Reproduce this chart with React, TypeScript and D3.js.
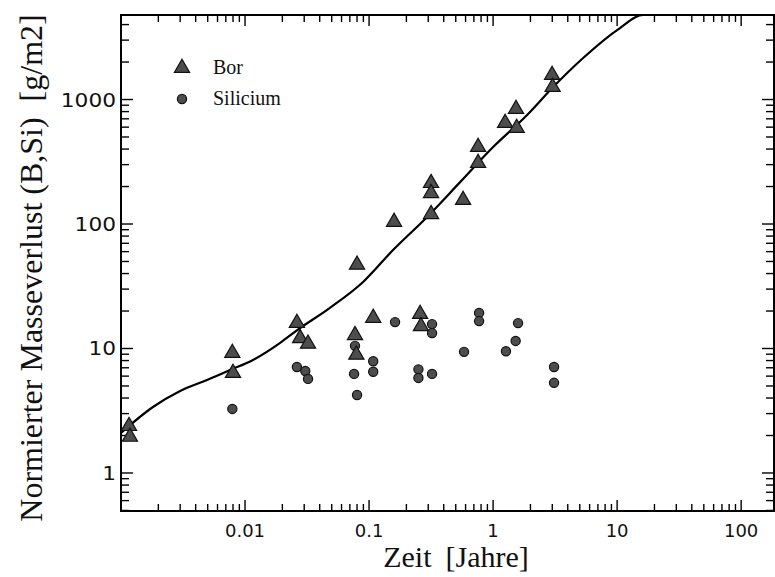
import React from 'react';
import * as d3 from 'd3';

// Bor (triangles)
const borX = [0.00116, 0.00118, 0.0079, 0.0080, 0.0262, 0.0278, 0.0322, 0.077, 0.079, 0.080, 0.108, 0.159, 0.258, 0.262, 0.316, 0.316, 0.316, 0.573, 0.757, 0.757, 1.25, 1.53, 1.55, 2.99, 3.02];
const borY = [2.38, 1.95, 9.2, 6.36, 16, 12.1, 10.9, 12.8, 8.9, 47, 17.6, 104, 18.9, 15.1, 213, 177, 120, 156, 415, 309, 648, 839, 590, 1573, 1260];

// Silicium (circles)
const siX = [0.0079, 0.0262, 0.0306, 0.0322, 0.0757, 0.077, 0.080, 0.108, 0.108, 0.162, 0.25, 0.25, 0.322, 0.322, 0.322, 0.583, 0.771, 0.771, 1.27, 1.52, 1.59, 3.1, 3.1];
const siY = [3.27, 7.1, 6.6, 5.7, 6.25, 10.5, 4.23, 7.9, 6.5, 16.3, 6.8, 5.8, 6.25, 15.7, 13.3, 9.4, 19.3, 16.6, 9.5, 11.5, 16.0, 7.1, 5.3];

// fitted curve
const curveX = [0.001, 0.00181, 0.003, 0.00494, 0.00757, 0.0116, 0.0192, 0.0262, 0.0484, 0.0895, 0.156, 0.294, 0.542, 1.0, 1.88, 3.05, 5.32, 10, 16.2, 30, 184];
const curveY = [2.1, 3.39, 4.56, 5.58, 6.72, 8.09, 11.1, 14.0, 21.2, 34.2, 61.8, 114, 217, 415, 751, 1260, 2155, 3615, 4775, 4775, 4775];

const xTickValues = [0.01, 0.1, 1, 10, 100];
const xTickLabels = ['0.01', '0.1', '1', '10', '100'];
const yTickValues = [1, 10, 100, 1000];
const yTickLabels = ['1', '10', '100', '1000'];

const legendLabels = ['Bor', 'Silicium'];
const xTitle = ['Zeit', '[Jahre]'];
const yTitle = ['Normierter Masseverlust (B,Si)', '[g/m2]'];

export default function App() {
  const W = 775, H = 577;
  const L = 121, R = 774, T = 15, B = 511;
  const x = d3.scaleLog().domain([0.001, 184]).range([L, R]);
  const y = d3.scaleLog().domain([0.495, 4775]).range([B, T]);

  const minor = (dom: number[]) => {
    const out: number[] = [];
    for (let k = -4; k <= 4; k++) {
      for (let d = 1; d <= 9; d++) {
        const v = d * Math.pow(10, k);
        if (v > dom[0] * 1.0001 && v < dom[1] * 0.9999) out.push(v);
      }
    }
    return out;
  };
  const xMinor = minor(x.domain());
  const yMinor = minor(y.domain());
  const isMajor = (v: number) => Math.abs(Math.log10(v) - Math.round(Math.log10(v))) < 1e-9;

  const tri = d3.symbol(d3.symbolTriangle, 100)() as string;
  const line = d3.line<number>()
    .x((_, i) => x(curveX[i]))
    .y((_, i) => y(curveY[i]))
    .curve(d3.curveMonotoneX);
  const curvePath = line(curveX.map((v) => v)) as string;

  const fill = '#4d4d4d';
  const stroke = '#111';
  const serif = '"Liberation Serif", "DejaVu Serif", serif';
  const sans = '"DejaVu Sans", "Liberation Sans", sans-serif';

  return (
    <svg width={W} height={H} style={{ position: 'absolute', left: 0, top: 0, background: '#fff' }}>
      <defs>
        <clipPath id="plot">
          <rect x={L} y={T} width={R - L} height={B - T} />
        </clipPath>
      </defs>
      <rect x={0} y={0} width={W} height={H} fill="#fff" />

      {/* ticks */}
      {xMinor.map((v, i) => {
        const len = isMajor(v) ? 11 : 7;
        const px = x(v);
        return (
          <g key={'xt' + i} stroke="#000" strokeWidth={1.4}>
            <line x1={px} x2={px} y1={B} y2={B - len} />
            <line x1={px} x2={px} y1={T} y2={T + len} />
          </g>
        );
      })}
      {yMinor.map((v, i) => {
        const len = isMajor(v) ? 12 : 8;
        const py = y(v);
        return (
          <g key={'yt' + i} stroke="#000" strokeWidth={1.4}>
            <line x1={L} x2={L + len} y1={py} y2={py} />
            <line x1={R} x2={R - len} y1={py} y2={py} />
          </g>
        );
      })}

      {/* frame */}
      <rect x={L} y={T} width={R - L} height={B - T} fill="none" stroke="#000" strokeWidth={2} />

      {/* tick labels */}
      {xTickValues.map((v, i) => (
        <text key={'xl' + i} x={x(v)} y={B + 26} fontFamily={sans} fontSize={18} textAnchor="middle" fill="#111">
          {xTickLabels[i]}
        </text>
      ))}
      {yTickValues.map((v, i) => (
        <text key={'yl' + i} x={L - 5} y={y(v) + 7} fontFamily={sans} fontSize={19} textAnchor="end" fill="#111"
          textLength={yTickLabels[i].length * 13.8} lengthAdjust="spacingAndGlyphs">
          {yTickLabels[i]}
        </text>
      ))}

      {/* curve */}
      <path d={curvePath} fill="none" stroke="#000" strokeWidth={2.2} clipPath="url(#plot)" />

      {/* data */}
      {siX.map((v, i) => (
        <circle key={'si' + i} cx={x(v)} cy={y(siY[i])} r={4.6} fill={fill} stroke={stroke} strokeWidth={1.2} />
      ))}
      {borX.map((v, i) => (
        <path key={'b' + i} d={tri} transform={`translate(${x(v)},${y(borY[i])})`} fill={fill} stroke={stroke} strokeWidth={1.2} />
      ))}

      {/* legend */}
      <path d={tri} transform="translate(182,68)" fill={fill} stroke={stroke} strokeWidth={1.2} />
      <text x={213} y={74} fontFamily={serif} fontSize={20} fill="#111">{legendLabels[0]}</text>
      <circle cx={182} cy={99} r={4.6} fill={fill} stroke={stroke} strokeWidth={1.2} />
      <text x={213} y={105} fontFamily={serif} fontSize={20} fill="#111">{legendLabels[1]}</text>

      {/* axis titles */}
      <text x={456} y={567} fontFamily={serif} fontSize={30} textAnchor="middle" fill="#111">
        <tspan>{xTitle[0]}</tspan>
        <tspan dx={14}>{xTitle[1]}</tspan>
      </text>
      <text transform="translate(42,268) rotate(-90)" fontFamily={serif} fontSize={32} textAnchor="middle" fill="#111">
        <tspan>{yTitle[0]}</tspan>
        <tspan dx={16}>{yTitle[1]}</tspan>
      </text>
    </svg>
  );
}
